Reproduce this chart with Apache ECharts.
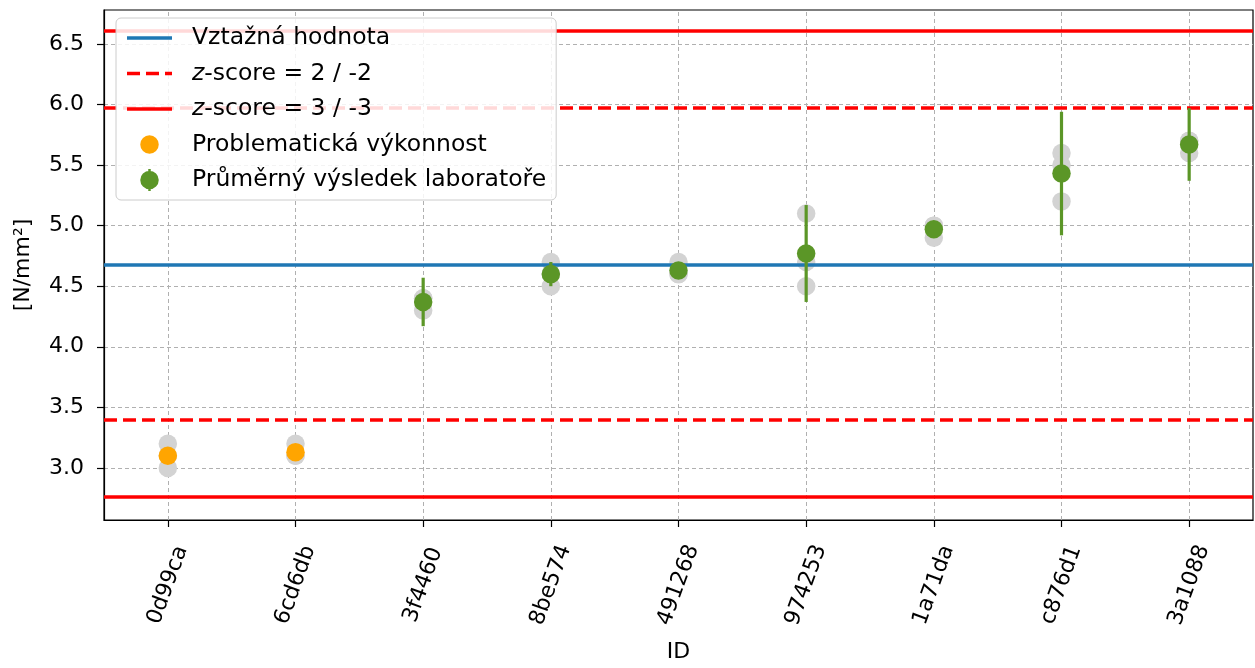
<!DOCTYPE html>
<html>
<head>
<meta charset="utf-8">
<script src="https://cdn.jsdelivr.net/npm/echarts@6/dist/echarts.min.js"></script>
<style>
html,body{margin:0;padding:0;background:#fff;}
#chart{width:1255px;height:668px;}
</style>
</head>
<body>
<div id="chart"></div>
<script>
// ---- data ----
const categories = ['0d99ca','6cd6db','3f4460','8be574','491268','974253','1a71da','c876d1','3a1088'];
const rep1 = [3.2, 3.2, 4.4, 4.7, 4.7, 5.1, 5.0, 5.6, 5.7];
const rep2 = [3.1, 3.1, 4.4, 4.6, 4.6, 4.7, 5.0, 5.5, 5.7];
const rep3 = [3.0, 3.1, 4.3, 4.5, 4.6, 4.5, 4.9, 5.2, 5.6];
const means = [3.10, 3.13, 4.37, 4.60, 4.63, 4.77, 4.97, 5.43, 5.67];
const errors = [0, 0, 0.2, 0.1, 0.05, 0.4, 0.05, 0.51, 0.3];
const problematic = [true, true, false, false, false, false, false, false, false];
const refValue = 4.685;
const z2Values = [5.971, 3.399];
const z3Values = [6.614, 2.756];
const yTicks = [3.0, 3.5, 4.0, 4.5, 5.0, 5.5, 6.0, 6.5];
const yMin = 2.57, yMax = 6.78;

// ---- build ----
const FONT = 'DejaVu Sans';
const BLUE = '#1f77b4', RED = '#ff0000', GREEN = '#5b9627', ORANGE = '#ffa500', GRAY = '#d3d3d3';
const LW = 3.5;

const repData = [];
[rep1, rep2, rep3].forEach(r => r.forEach((v, i) => repData.push([i, v])));
const greenData = means.map((v, i) => problematic[i] ? [i, null] : [i, v]);
const orangeData = means.map((v, i) => problematic[i] ? [i, v] : [i, null]);
const errData = means.map((v, i) => problematic[i] ? null : [i, v - errors[i], v + errors[i]]).filter(d => d);

const greenIcon = 'path://M8,0h2.5v22h-2.5z M0,11a9.25,9.25 0 1,1 18.5,0a9.25,9.25 0 1,1 -18.5,0z';
const orangeIcon = 'path://M9,0L9.01,0L9,0.01z M9,22L9.01,22L9,21.99z M0,11a9.25,9.25 0 1,1 18.5,0a9.25,9.25 0 1,1 -18.5,0z';
const solidIcon = 'path://M0,0h45v3.5h-45z';
const dashIcon = 'path://M0,0h13v3.5h-13z M19,0h13v3.5h-13z M38,0h7v3.5h-7z';

function hLine(name, color, type, values) {
  return {
    name: name, type: 'line', data: [], symbol: 'none', z: 3,
    color: color, lineStyle: {color: color, width: LW, type: type},
    markLine: {silent: true, symbol: 'none', z: 3, label: {show: false},
      lineStyle: {color: color, width: LW, type: type},
      data: values.map(v => ({yAxis: v}))}
  };
}

const chart = echarts.init(document.getElementById('chart'), null, {renderer: 'canvas'});
const option = {
  animation: false,
  backgroundColor: '#fff',
  textStyle: {fontFamily: FONT},
  grid: {left: 104, right: 2, top: 10, bottom: 148, show: true, borderColor: '#000', borderWidth: 1.2, backgroundColor: 'transparent'},
  legend: {
    z: 100,
    left: 116, top: 18, orient: 'vertical',
    padding: [8, 10, 8, 11],
    itemWidth: 45, itemHeight: 22, itemGap: 11.5,
    backgroundColor: 'rgba(255,255,255,0.85)',
    borderColor: '#cccccc', borderWidth: 1, borderRadius: 5,
    textStyle: {fontFamily: FONT, fontSize: 23.5, color: '#000', padding: [0, 0, 0, 15],
      rich: {i: {fontStyle: 'italic', fontFamily: FONT, fontSize: 23.5, color: '#000'},
             n: {fontFamily: FONT, fontSize: 23.5, color: '#000'}}},
    formatter: function (name) {
      if (name.indexOf('z-score') === 0) return '{i|z}{n|' + name.slice(1) + '}';
      return name;
    },
    data: [
      {name: 'Vztažná hodnota', icon: solidIcon},
      {name: 'z-score = 2 / -2', icon: dashIcon},
      {name: 'z-score = 3 / -3', icon: solidIcon},
      {name: 'Problematická výkonnost', icon: orangeIcon},
      {name: 'Průměrný výsledek laboratoře', icon: greenIcon}
    ]
  },
  xAxis: {
    type: 'category', data: categories, boundaryGap: true,
    name: 'ID', nameLocation: 'middle', nameGap: 121,
    nameTextStyle: {fontFamily: FONT, fontSize: 22, color: '#000'},
    axisLine: {show: true, lineStyle: {color: '#000', width: 1.2}},
    axisTick: {show: true, alignWithLabel: true, length: 7, lineStyle: {color: '#000', width: 1.2}},
    axisLabel: {rotate: 70, align: 'center', verticalAlign: 'middle', margin: 65, fontSize: 22, color: '#000', fontFamily: FONT, interval: 0},
    splitLine: {show: false}
  },
  yAxis: {
    type: 'value', min: yMin, max: yMax, splitNumber: 8,
    name: '[N/mm²]', nameLocation: 'middle', nameGap: 70, nameRotate: 90,
    nameTextStyle: {fontFamily: FONT, fontSize: 22, color: '#000'},
    axisLine: {show: true, lineStyle: {color: '#000', width: 1.2}},
    axisTick: {show: true, length: 7, customValues: yTicks, lineStyle: {color: '#000', width: 1.2}},
    axisLabel: {customValues: yTicks, formatter: v => Number(v).toFixed(1), margin: 20, fontSize: 22, color: '#000', fontFamily: FONT},
    splitLine: {show: true, lineStyle: {color: '#b0b0b0', type: [4, 3], width: 1}}
  },
  series: [
    {
      name: 'xgrid', type: 'line', data: [], z: 0, silent: true,
      markLine: {silent: true, symbol: 'none', z: 0, label: {show: false},
        lineStyle: {color: '#b0b0b0', type: [4, 3], width: 1},
        data: categories.map(c => ({xAxis: c}))}
    },
    {
      name: 'Měření', type: 'scatter', data: repData, symbol: 'circle', symbolSize: 18.5, z: 2,
      itemStyle: {color: GRAY, opacity: 1}
    },
    hLine('Vztažná hodnota', BLUE, 'solid', [refValue]),
    hLine('z-score = 2 / -2', RED, [13, 6], z2Values),
    hLine('z-score = 3 / -3', RED, 'solid', z3Values),
    {
      name: 'errbars', type: 'custom', data: errData, z: 4,
      renderItem: function (params, api) {
        const p1 = api.coord([api.value(0), api.value(1)]);
        const p2 = api.coord([api.value(0), api.value(2)]);
        return {type: 'rect', shape: {x: p1[0] - 1.6, y: p2[1], width: 3.2, height: p1[1] - p2[1]},
          style: {fill: GREEN}};
      },
      encode: {x: 0, y: [1, 2]}
    },
    {
      name: 'Průměrný výsledek laboratoře', type: 'scatter', data: greenData, symbol: 'circle', symbolSize: 18.5, z: 5,
      color: GREEN, itemStyle: {color: GREEN, opacity: 1}
    },
    {
      name: 'Problematická výkonnost', type: 'scatter', data: orangeData, symbol: 'circle', symbolSize: 18.5, z: 5,
      color: ORANGE, itemStyle: {color: ORANGE, opacity: 1}
    }
  ]
};
chart.setOption(option);
</script>
</body>
</html>
